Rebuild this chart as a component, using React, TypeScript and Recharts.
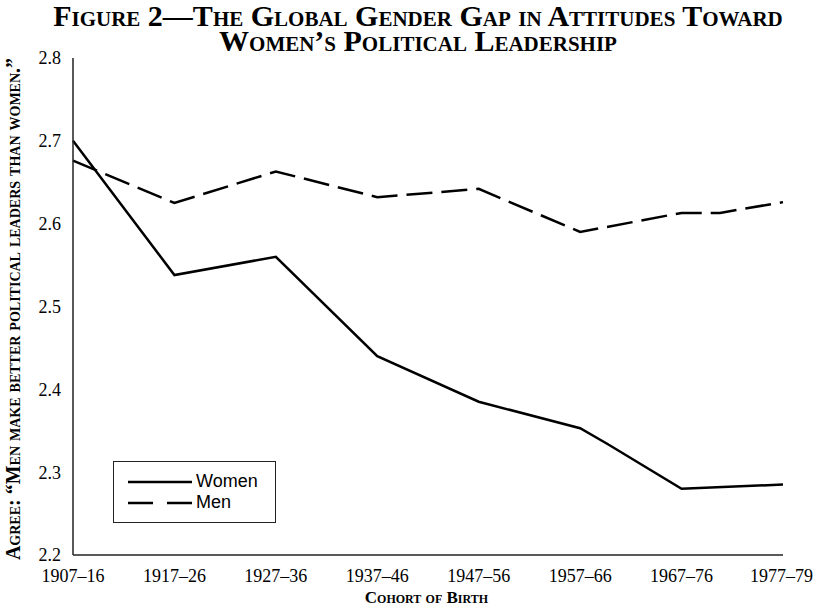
import React from "react";
import {Legend, Line, LineChart, XAxis, YAxis} from "recharts";

const cohorts = ["1907–16", "1917–26", "1927–36", "1937–46", "1947–56", "1957–66", "1967–76", "1977–79"];
const women = [2.70, 2.538, 2.56, 2.44, 2.385, 2.353, 2.28, 2.285];
const men = [2.676, 2.625, 2.663, 2.632, 2.642, 2.590, 2.613, 2.626];
// the original lines have one extra bend between two cohorts: [position, value]
const womenBend = [5.27, 2.334];
const menBend = [6.38, 2.613];
const yTicks = [2.2, 2.3, 2.4, 2.5, 2.6, 2.7, 2.8];

const toPoints = (values: number[], bend: number[]) =>
   [...values.map((v, i) => ({x: i, y: v})), {x: bend[0], y: bend[1]}].sort((a, b) => a.x - b.x);

const series = [
   {name: "Women", data: toPoints(women, womenBend), dash: undefined, legendDash: undefined},
   {name: "Men", data: toPoints(men, menBend), dash: "26 9", legendDash: "25 14"},
];

const serif = "'Liberation Serif', 'Times New Roman', serif";

const heading: React.CSSProperties = {
   position: "absolute", left: 0, width: 813, paddingLeft: 23, boxSizing: "border-box", textAlign: "center",
   fontWeight: "bold", fontVariant: "small-caps", fontSize: 30, lineHeight: "25px", color: "#000", whiteSpace: "nowrap",
};

const LegendBox = () => (
   <div style={{
      border: "1.5px solid #222", background: "#fff", width: 163, height: 62, boxSizing: "border-box",
      padding: "9px 0 0 14px", fontFamily: "'Liberation Sans', Arial, sans-serif", fontSize: 18, color: "#000",
   }}>
      {series.map((s) => (
         <div key={s.name} style={{display: "flex", alignItems: "center", height: 21}}>
            <svg width={64} height={10}>
               <line x1={0} y1={5} x2={64} y2={5} stroke="#000" strokeWidth={2.5} strokeDasharray={s.legendDash}/>
            </svg>
            <span style={{marginLeft: 4}}>{s.name}</span>
         </div>
      ))}
   </div>
);

const App: React.FC = () => {
   return (
      <div style={{position: "absolute", left: 0, top: 0, width: 813, height: 609, background: "#fff", fontFamily: serif}}>
         <div style={{...heading, top: 3}}>Figure 2—The Global Gender Gap in Attitudes Toward</div>
         <div style={{...heading, top: 28}}>Women’s Political Leadership</div>
         <div style={{position: "absolute", left: 13, top: 309, width: 0, height: 0}}>
            <div style={{
               position: "absolute", transform: "translate(-50%, -50%) rotate(-90deg)", whiteSpace: "nowrap",
               fontWeight: "bold", fontVariant: "small-caps", fontSize: 20, lineHeight: "22px", color: "#000",
            }}>
               Agree: “Men make better political leaders than women.”
            </div>
         </div>
         <div style={{
            position: "absolute", left: 0, top: 588, width: 813, paddingLeft: 40, boxSizing: "border-box",
            textAlign: "center", fontWeight: "bold", fontVariant: "small-caps", fontSize: 17, color: "#000",
         }}>
            Cohort of Birth
         </div>
         <LineChart width={813} height={609} data={series[0].data} margin={{top: 58, right: 30, bottom: 24, left: 0}}>
            <XAxis dataKey="x" type="number" domain={[0, 7]} ticks={cohorts.map((_, i) => i)}
                   tickFormatter={(i: number) => cohorts[i]} tickLine={false} tickMargin={8} height={30}
                   axisLine={{stroke: "#222", strokeWidth: 1.5}}
                   tick={{fill: "#000", fontSize: 18, fontFamily: serif}}/>
            <XAxis xAxisId="top" dataKey="x" type="number" domain={[0, 7]} orientation="top" height={0}
                   tick={false} tickLine={false} axisLine={{stroke: "#222", strokeWidth: 1.5}}/>
            <YAxis type="number" domain={[2.2, 2.8]} ticks={yTicks} tickFormatter={(v: number) => v.toFixed(1)}
                   tickLine={false} tickMargin={6} width={73} axisLine={{stroke: "#222", strokeWidth: 1.5}}
                   tick={{fill: "#000", fontSize: 18, fontFamily: serif}}/>
            <YAxis yAxisId="right" type="number" domain={[2.2, 2.8]} orientation="right" width={0}
                   tick={false} tickLine={false} axisLine={{stroke: "#222", strokeWidth: 1.5}}/>
            <Legend layout="vertical" align="center" verticalAlign="middle" content={<LegendBox/>}
                    wrapperStyle={{left: 113, top: 461, width: 163, height: 62}}/>
            {series.map((s) => (
               <Line key={s.name} data={s.data} dataKey="y" name={s.name} type="linear" stroke="#000"
                     strokeWidth={2.5} strokeDasharray={s.dash} dot={false} activeDot={false}
                     isAnimationActive={false}/>
            ))}
         </LineChart>
      </div>
   );
};

export default App;
